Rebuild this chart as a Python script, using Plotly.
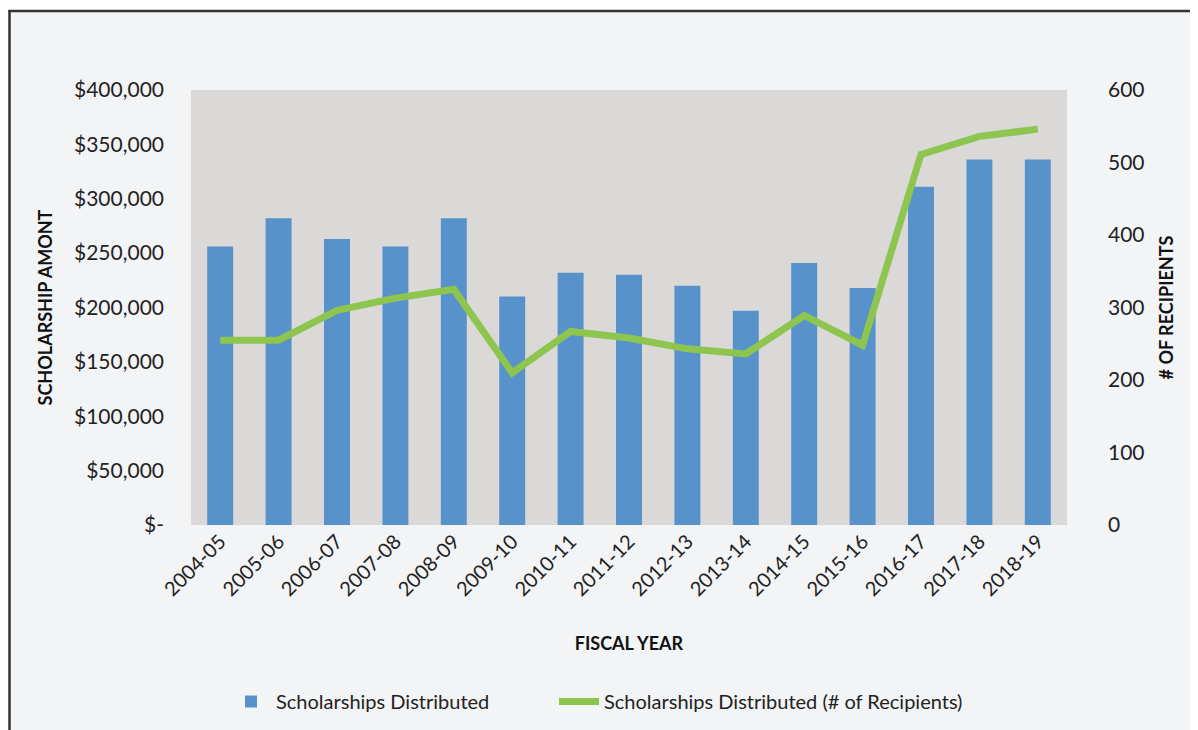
import plotly.graph_objects as go

years = ["2004-05", "2005-06", "2006-07", "2007-08", "2008-09", "2009-10", "2010-11",
         "2011-12", "2012-13", "2013-14", "2014-15", "2015-16", "2016-17", "2017-18", "2018-19"]
amounts = [256000, 282000, 263000, 256000, 282000, 210000, 232000,
           230000, 220000, 197000, 241000, 218000, 311000, 336000, 336000]
recipients = [255, 255, 296, 313, 325, 210, 267, 258, 243, 236, 289, 248, 511, 536, 546]

left_tickvals = [0, 50000, 100000, 150000, 200000, 250000, 300000, 350000, 400000]
left_ticktext = ["$-", "$50,000", "$100,000", "$150,000", "$200,000", "$250,000",
                 "$300,000", "$350,000", "$400,000"]
right_tickvals = [0, 100, 200, 300, 400, 500, 600]

FONT = "Lato"
W, H = 1198, 730
OFF = 8  # page body offset
# target plot area on screen: x 191..1067, y 90..525
PL, PR, PT, PB = 191, 1067, 90, 525
L, T = PL - OFF, PT - OFF
PW, PH = PR - PL, PB - PT
R, B = W - L - PW, H - T - PH


def px_x(p):
    return (p - PL) / PW


def px_y(p):
    return (PB - p) / PH


fig = go.Figure()
fig.add_trace(go.Bar(
    x=years, y=amounts, name="Scholarships Distributed",
    marker=dict(color="#5892cb", line=dict(width=0)),
    yaxis="y", legend="legend",
))
fig.add_trace(go.Scatter(
    x=years, y=recipients, name="Scholarships Distributed (# of Recipients)",
    mode="lines", line=dict(color="#8dc54f", width=7),
    yaxis="y2", legend="legend2",
))

shapes = [
    dict(type="rect", xref="paper", yref="paper", x0=px_x(-20), x1=px_x(9),
         y0=px_y(-20), y1=px_y(760), fillcolor="white", line=dict(width=0), layer="above"),
    dict(type="rect", xref="paper", yref="paper", x0=px_x(-20), x1=px_x(1220),
         y0=px_y(-20), y1=px_y(10), fillcolor="white", line=dict(width=0), layer="above"),
    dict(type="line", xref="paper", yref="paper", x0=px_x(9.5), x1=px_x(9.5),
         y0=px_y(10), y1=px_y(760), line=dict(color="#333333", width=2.5), layer="above"),
    dict(type="line", xref="paper", yref="paper", x0=px_x(8.5), x1=px_x(1220),
         y0=px_y(11), y1=px_y(11), line=dict(color="#333333", width=2.5), layer="above"),
]

legend_common = dict(orientation="h", yanchor="top", xanchor="left",
                     font=dict(size=20, family=FONT, color="#222222"),
                     bgcolor="rgba(0,0,0,0)", itemwidth=40)

fig.update_layout(
    width=W, height=H,
    margin=dict(l=L, r=R, t=T, b=B),
    paper_bgcolor="#f3f4f6",
    plot_bgcolor="#dbd9d7",
    font=dict(family=FONT, size=20, color="#222222"),
    bargap=0.555,
    showlegend=True,
    legend=dict(x=px_x(226), y=px_y(682), **legend_common),
    legend2=dict(x=px_x(554), y=px_y(682), **legend_common),
    xaxis=dict(
        type="category",
        tickangle=-45, showgrid=False, zeroline=False, showline=False,
        tickfont=dict(size=20, family=FONT),
        title=dict(text="<b>FISCAL YEAR</b>", font=dict(size=18, family=FONT, color="#111111"),
                   standoff=38),
    ),
    yaxis=dict(
        range=[0, 400000], tickvals=left_tickvals, ticktext=left_ticktext,
        showgrid=False, zeroline=False, showline=False,
        tickfont=dict(size=21, family=FONT), ticklabelstandoff=26,
        title=dict(text="<b>SCHOLARSHIP AMONT</b>", font=dict(size=18, family=FONT, color="#111111"),
                   standoff=16),
    ),
    yaxis2=dict(
        range=[0, 600], tickvals=right_tickvals, overlaying="y", side="right",
        showgrid=False, zeroline=False, showline=False,
        tickfont=dict(size=21, family=FONT), ticklabelstandoff=40,
        title=dict(text="<b># OF RECIPIENTS</b>", font=dict(size=18, family=FONT, color="#111111"),
                   standoff=16),
    ),
    shapes=shapes,
)

fig.write_html("out.html")
